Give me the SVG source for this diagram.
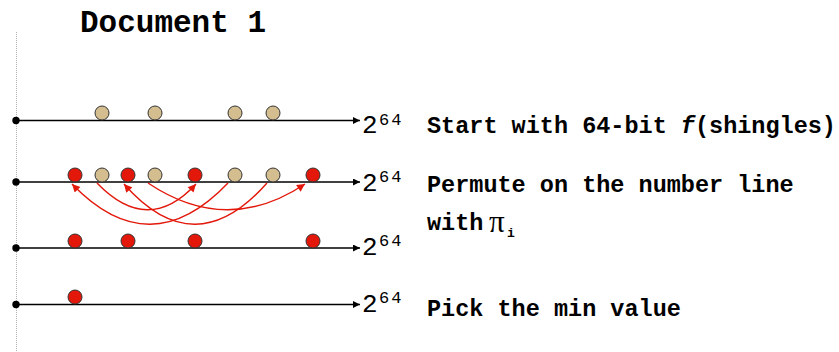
<svg xmlns="http://www.w3.org/2000/svg" width="839" height="352" viewBox="0 0 839 352">
<style>
.axis{stroke:#000;stroke-width:1.5;fill:none}
.dot{fill:#000}
.tan{fill:#D4BD8E;stroke:#333;stroke-width:1}
.red{fill:#E3170A;stroke:#333;stroke-width:1}
.perm{stroke:#E3170A;stroke-width:1.4;fill:none}
.lab{font-family:"Courier New","Nimbus Mono PS","FreeMono","Liberation Mono",monospace;font-weight:bold;font-size:23.5px;fill:#000}
.two{font-family:"Courier New","Nimbus Mono PS","FreeMono","Liberation Mono",monospace;font-size:26px;fill:#000}
.sup{font-family:"Courier New","Nimbus Mono PS","FreeMono","Liberation Mono",monospace;font-size:17px;fill:#000;letter-spacing:2px}
.title{font-family:"Courier New","Nimbus Mono PS","FreeMono","Liberation Mono",monospace;font-weight:bold;font-size:31px;fill:#000}
</style>
<defs>
<marker id="ah" viewBox="0 0 10 10" refX="10" refY="5" markerWidth="8" markerHeight="7" markerUnits="userSpaceOnUse" orient="auto"><path d="M0,0L10,5L0,10z" fill="#000"/></marker>
<marker id="rh" viewBox="0 0 10 10" refX="10" refY="5" markerWidth="9" markerHeight="8" markerUnits="userSpaceOnUse" orient="auto"><path d="M0,0L10,5L0,10z" fill="#E3170A"/></marker>
</defs>
<rect width="839" height="352" fill="#fff"/>
<line x1="16.5" y1="32" x2="16.5" y2="352" stroke="#b0b0b0" stroke-width="1" stroke-dasharray="1,1"/>
<text id="title" class="title" x="80" y="32">Document 1</text>

<g id="connectors">
<line class="axis" x1="16" y1="120.5" x2="360" y2="120.5" marker-end="url(#ah)"/>
<line class="axis" x1="16" y1="182" x2="360" y2="182" marker-end="url(#ah)"/>
<line class="axis" x1="16" y1="248" x2="360" y2="248" marker-end="url(#ah)"/>
<line class="axis" x1="16" y1="304.5" x2="360" y2="304.5" marker-end="url(#ah)"/>
<path class="perm" d="M97,183 Q148,236 196,184" marker-end="url(#rh)"/>
<path class="perm" d="M148,183 Q227,236 305,184" marker-end="url(#rh)"/>
<path class="perm" d="M228,183 Q150,265 72,184" marker-end="url(#rh)"/>
<path class="perm" d="M267,183 Q195,265 124,184" marker-end="url(#rh)"/>
</g>

<g id="row1">
<circle class="dot" cx="16" cy="120.5" r="3.7"/>
<circle class="tan" cx="102" cy="113" r="7"/>
<circle class="tan" cx="155" cy="113" r="7"/>
<circle class="tan" cx="235" cy="113" r="7"/>
<circle class="tan" cx="273" cy="113" r="7"/>
<text class="two" x="362" y="133">2</text><text class="sup" x="379" y="125">64</text>
<text class="lab" x="427" y="133">Start with 64-bit <tspan font-style="italic">f</tspan>(shingles)</text>
</g>

<g id="row2">
<circle class="dot" cx="16" cy="182" r="3.7"/>
<circle class="red" cx="75" cy="175" r="7"/>
<circle class="tan" cx="102" cy="175" r="7"/>
<circle class="red" cx="128" cy="175" r="7"/>
<circle class="tan" cx="155" cy="175" r="7"/>
<circle class="red" cx="195" cy="175" r="7"/>
<circle class="tan" cx="235" cy="175" r="7"/>
<circle class="tan" cx="273" cy="175" r="7"/>
<circle class="red" cx="313" cy="175" r="7"/>
<text class="two" x="362" y="191">2</text><text class="sup" x="379" y="182">64</text>
<text class="lab" x="427" y="192">Permute on the number line</text>
<text class="lab" x="427" y="230">with</text>
<text x="489" y="232" font-family="'Liberation Serif','DejaVu Serif',serif" font-size="31" fill="#000">π</text>
<text x="507" y="237" font-family="'Liberation Mono',monospace" font-weight="bold" font-size="13" fill="#000">i</text>
</g>

<g id="row3">
<circle class="dot" cx="16" cy="248" r="3.7"/>
<circle class="red" cx="75" cy="241" r="7"/>
<circle class="red" cx="128" cy="241" r="7"/>
<circle class="red" cx="195" cy="241" r="7"/>
<circle class="red" cx="313" cy="241" r="7"/>
<text class="two" x="362" y="255">2</text><text class="sup" x="379" y="246">64</text>
</g>

<g id="row4">
<circle class="dot" cx="16" cy="304.5" r="3.7"/>
<circle class="red" cx="75" cy="297" r="7"/>
<text class="two" x="362" y="312">2</text><text class="sup" x="379" y="303">64</text>
<text class="lab" x="427" y="316">Pick the min value</text>
</g>
</svg>
